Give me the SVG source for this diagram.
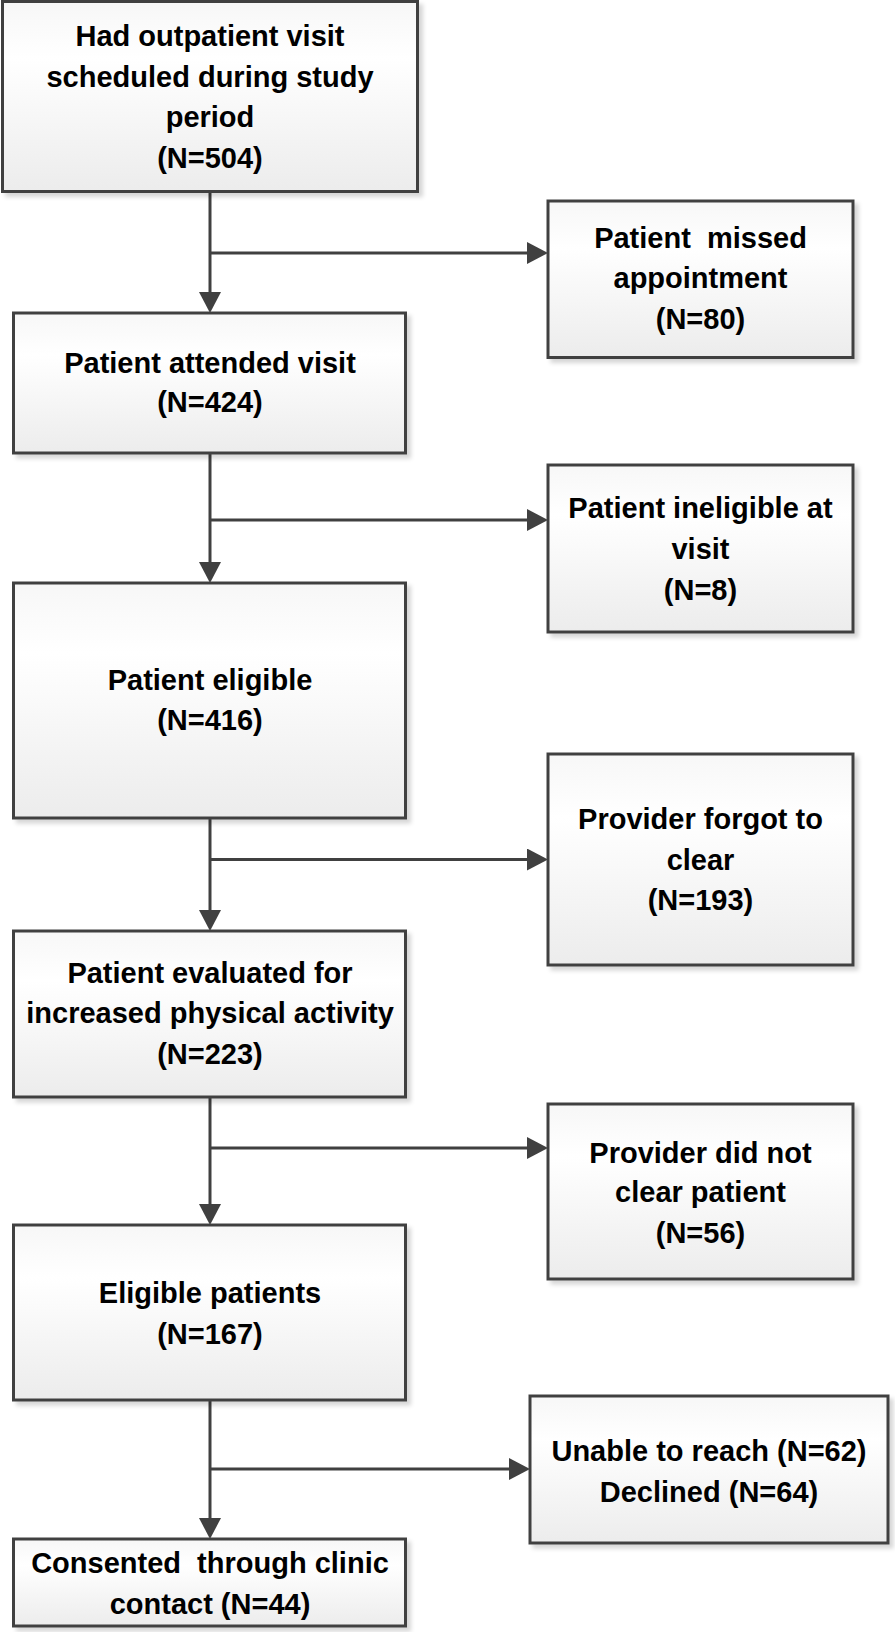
<svg xmlns="http://www.w3.org/2000/svg" width="895" height="1632" viewBox="0 0 895 1632">
<style>
.box{fill:url(#g);stroke:#404040;stroke-width:3;filter:url(#sh)}
.t{font-family:"Liberation Sans",Arial,sans-serif;font-weight:bold;font-size:29px;fill:#000;text-anchor:middle}
.c{fill:none;stroke:#404040;stroke-width:3}
</style>
<defs>
<linearGradient id="g" x1="0" y1="0" x2="0" y2="1">
<stop offset="0" stop-color="#f7f7f7"/>
<stop offset="0.3" stop-color="#ffffff"/>
<stop offset="1" stop-color="#ececec"/>
</linearGradient>
<filter id="sh" x="-5%" y="-5%" width="115%" height="120%">
<feDropShadow dx="4" dy="4" stdDeviation="2" flood-color="#000" flood-opacity="0.16"/>
</filter>
<marker id="ah" viewBox="0 0 21 22" refX="11" refY="11" markerWidth="21" markerHeight="22" markerUnits="userSpaceOnUse" orient="auto">
<path d="M0,0 L21,11 L0,22 z" fill="#404040"/>
</marker>
</defs>
<g id="connectors">
<path class="c" d="M210,191.5 V303" marker-end="url(#ah)"/>
<path class="c" d="M210,253 H538" marker-end="url(#ah)"/>
<path class="c" d="M210,453 V573" marker-end="url(#ah)"/>
<path class="c" d="M210,520 H538" marker-end="url(#ah)"/>
<path class="c" d="M210,818 V921" marker-end="url(#ah)"/>
<path class="c" d="M210,859.5 H538" marker-end="url(#ah)"/>
<path class="c" d="M210,1097 V1215" marker-end="url(#ah)"/>
<path class="c" d="M210,1148 H538" marker-end="url(#ah)"/>
<path class="c" d="M210,1400 V1529" marker-end="url(#ah)"/>
<path class="c" d="M210,1469 H520" marker-end="url(#ah)"/>
</g>
<g id="n1">
<rect class="box" x="2.5" y="1.5" width="415" height="190"/>
<text class="t" x="210" y="46">Had outpatient visit</text>
<text class="t" x="210" y="86.5">scheduled during study</text>
<text class="t" x="210" y="127">period</text>
<text class="t" x="210" y="167.5">(N=504)</text>
</g>
<g id="n2">
<rect class="box" x="13.5" y="313" width="392" height="140"/>
<text class="t" x="210" y="373">Patient attended visit</text>
<text class="t" x="210" y="412">(N=424)</text>
</g>
<g id="n3">
<rect class="box" x="13.5" y="583" width="392" height="235"/>
<text class="t" x="210" y="690">Patient eligible</text>
<text class="t" x="210" y="730">(N=416)</text>
</g>
<g id="n4">
<rect class="box" x="13.5" y="931" width="392" height="166"/>
<text class="t" x="210" y="983">Patient evaluated for</text>
<text class="t" x="210" y="1023">increased physical activity</text>
<text class="t" x="210" y="1064">(N=223)</text>
</g>
<g id="n5">
<rect class="box" x="13.5" y="1225" width="392" height="175"/>
<text class="t" x="210" y="1303">Eligible patients</text>
<text class="t" x="210" y="1344">(N=167)</text>
</g>
<g id="n6">
<rect class="box" x="13.5" y="1539" width="392" height="87"/>
<text class="t" x="210" y="1573" xml:space="preserve">Consented  through clinic</text>
<text class="t" x="210" y="1614">contact (N=44)</text>
</g>
<g id="r1">
<rect class="box" x="548" y="201" width="305" height="156.5"/>
<text class="t" x="700.5" y="248" xml:space="preserve">Patient  missed</text>
<text class="t" x="700.5" y="288">appointment</text>
<text class="t" x="700.5" y="329">(N=80)</text>
</g>
<g id="r2">
<rect class="box" x="548" y="465" width="305" height="167"/>
<text class="t" x="700.5" y="518">Patient ineligible at</text>
<text class="t" x="700.5" y="559">visit</text>
<text class="t" x="700.5" y="600">(N=8)</text>
</g>
<g id="r3">
<rect class="box" x="548" y="754" width="305" height="211"/>
<text class="t" x="700.5" y="829">Provider forgot to</text>
<text class="t" x="700.5" y="870">clear</text>
<text class="t" x="700.5" y="910">(N=193)</text>
</g>
<g id="r4">
<rect class="box" x="548" y="1104" width="305" height="175"/>
<text class="t" x="700.5" y="1163">Provider did not</text>
<text class="t" x="700.5" y="1202">clear patient</text>
<text class="t" x="700.5" y="1243">(N=56)</text>
</g>
<g id="r5">
<rect class="box" x="530" y="1396" width="358" height="147"/>
<text class="t" x="709" y="1461">Unable to reach (N=62)</text>
<text class="t" x="709" y="1502">Declined (N=64)</text>
</g>
</svg>
